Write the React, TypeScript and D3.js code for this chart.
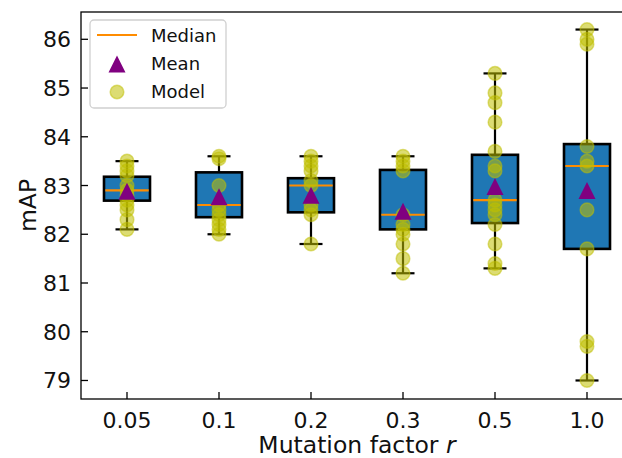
import React from 'react'
import * as d3 from 'd3'

const width = 622
const height = 458

// mutation factor r (x categories)
const categories = ['0.05', '0.1', '0.2', '0.3', '0.5', '1.0']

// mAP of each trained model, per category
const modelScores = [
    [83.5, 83.4, 83.3, 83.2, 83.0, 82.9, 82.8, 82.7, 82.6, 82.5, 82.3, 82.1],
    [83.6, 83.55, 83.0, 82.6, 82.5, 82.4, 82.3, 82.2, 82.1, 82.0],
    [83.6, 83.5, 83.4, 83.3, 83.1, 83.0, 82.6, 82.5, 82.4, 81.8],
    [83.6, 83.5, 83.4, 83.3, 82.4, 82.2, 82.1, 82.0, 81.8, 81.5, 81.2],
    [85.3, 84.9, 84.7, 84.3, 83.7, 83.4, 83.3, 82.7, 82.6, 82.5, 82.4, 82.2, 81.8, 81.4, 81.3],
    [86.2, 86.0, 85.9, 83.8, 83.5, 83.4, 82.5, 81.7, 79.8, 79.7, 79.0],
]

// box statistics
const whiskerLow = [82.1, 82.0, 81.8, 81.2, 81.3, 79.0]
const q1 = [82.69, 82.35, 82.45, 82.1, 82.23, 81.7]
const medians = [82.9, 82.6, 83.0, 82.4, 82.7, 83.4]
const q3 = [83.18, 83.27, 83.15, 83.32, 83.63, 83.85]
const whiskerHigh = [83.5, 83.6, 83.6, 83.6, 85.3, 86.2]
const means = [82.88, 82.77, 82.8, 82.47, 82.98, 82.9]

const yTicks = [79, 80, 81, 82, 83, 84, 85, 86]

const margin = { left: 81, right: 633, top: 12, bottom: 399 }

const x = d3.scaleLinear().domain([0.5, 6.5]).range([margin.left, margin.right])
const y = d3.scaleLinear().domain([78.62, 86.56]).range([margin.bottom, margin.top])

const boxColor = '#1f77b4'
const medianColor = '#ff8c00'
const meanColor = '#800080'
const dotColor = '#bfbf00'
const font = 'DejaVu Sans, sans-serif'

const tri = (cx: number, cy: number, s: number) =>
    `M${cx},${cy - s}L${cx - s},${cy + s}L${cx + s},${cy + s}Z`

const App = () => {
    const boxHalf = x(1.25) - x(1) // box width 0.5
    const capHalf = boxHalf / 2
    return (
        <svg width={width} height={height} style={{ position: 'absolute', left: 0, top: 0 }}>
            <rect x={0} y={0} width={width} height={height} fill="white" />

            {categories.map((c, i) => {
                const cx = x(i + 1)
                return (
                    <g key={c}>
                        {/* whiskers */}
                        <line x1={cx} x2={cx} y1={y(whiskerLow[i])} y2={y(q1[i])} stroke="black" strokeWidth={2.2} />
                        <line x1={cx} x2={cx} y1={y(q3[i])} y2={y(whiskerHigh[i])} stroke="black" strokeWidth={2.2} />
                        <line x1={cx - capHalf} x2={cx + capHalf} y1={y(whiskerLow[i])} y2={y(whiskerLow[i])} stroke="black" strokeWidth={2.2} />
                        <line x1={cx - capHalf} x2={cx + capHalf} y1={y(whiskerHigh[i])} y2={y(whiskerHigh[i])} stroke="black" strokeWidth={2.2} />
                        {/* box */}
                        <rect
                            x={cx - boxHalf}
                            y={y(q3[i])}
                            width={boxHalf * 2}
                            height={y(q1[i]) - y(q3[i])}
                            fill={boxColor}
                            stroke="black"
                            strokeWidth={2.6}
                        />
                        <line x1={cx - boxHalf + 1.3} x2={cx + boxHalf - 1.3} y1={y(medians[i])} y2={y(medians[i])} stroke={medianColor} strokeWidth={2.2} />
                    </g>
                )
            })}

            {modelScores.map((arr, i) =>
                arr.map((v, j) => (
                    <circle
                        key={`${i}-${j}`}
                        cx={x(i + 1)}
                        cy={y(v)}
                        r={6.8}
                        fill={dotColor}
                        fillOpacity={0.55}
                        stroke={dotColor}
                        strokeOpacity={0.5}
                        strokeWidth={1.5}
                    />
                ))
            )}

            {means.map((m, i) => (
                <path key={i} d={tri(x(i + 1), y(m), 8.5)} fill={meanColor} />
            ))}

            {/* frame */}
            <rect
                x={margin.left}
                y={margin.top}
                width={margin.right - margin.left}
                height={margin.bottom - margin.top}
                fill="none"
                stroke="black"
                strokeWidth={1.3}
            />

            {/* y axis */}
            {yTicks.map((t) => (
                <g key={t}>
                    <line x1={margin.left} x2={margin.left + 7} y1={y(t)} y2={y(t)} stroke="black" strokeWidth={1.3} />
                    <text x={margin.left - 10} y={y(t) + 8} textAnchor="end" fontFamily={font} fontSize={22} fill="#111">
                        {t}
                    </text>
                </g>
            ))}

            {/* x axis */}
            {categories.map((c, i) => (
                <g key={c}>
                    <line x1={x(i + 1)} x2={x(i + 1)} y1={margin.bottom} y2={margin.bottom - 7} stroke="black" strokeWidth={1.3} />
                    <text x={x(i + 1)} y={428} textAnchor="middle" fontFamily={font} fontSize={22} fill="#111">
                        {c}
                    </text>
                </g>
            ))}

            <text x={(margin.left + margin.right) / 2} y={453} textAnchor="middle" fontFamily={font} fontSize={23.5} fill="#111">
                Mutation factor <tspan fontStyle="italic">r</tspan>
            </text>
            <text
                transform={`translate(36, ${(margin.top + margin.bottom) / 2}) rotate(-90)`}
                textAnchor="middle"
                fontFamily={font}
                fontSize={23.5}
                fill="#111"
            >
                mAP
            </text>

            {/* legend */}
            <g>
                <rect x={90} y={20} width={136} height={88} rx={4} fill="white" fillOpacity={0.85} stroke="#d0d0d0" strokeWidth={1.3} />
                <line x1={97} x2={137} y1={35} y2={35} stroke={medianColor} strokeWidth={2.2} />
                <text x={151} y={42} fontFamily={font} fontSize={18} fill="#111">Median</text>
                <path d={tri(117, 64, 8.5)} fill={meanColor} />
                <text x={151} y={70} fontFamily={font} fontSize={18} fill="#111">Mean</text>
                <circle cx={117} cy={92} r={6.8} fill={dotColor} fillOpacity={0.55} stroke={dotColor} strokeOpacity={0.5} strokeWidth={1.5} />
                <text x={151} y={98} fontFamily={font} fontSize={18} fill="#111">Model</text>
            </g>
        </svg>
    )
}

export default App
